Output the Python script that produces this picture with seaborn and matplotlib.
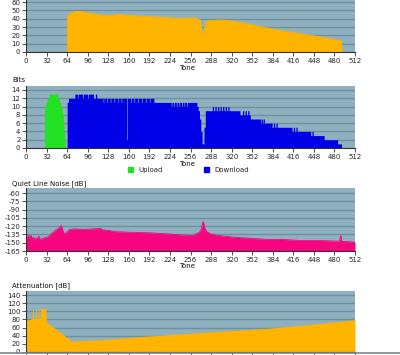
import numpy as np
import matplotlib
matplotlib.use('Agg')
import matplotlib.pyplot as plt
from matplotlib.lines import Line2D
from matplotlib.patches import Patch
import seaborn as sns

# ---- data ----
tone_ticks = list(range(0, 513, 32))

# top panel (its top is cut off in the screenshot)
snr_tones = [64, 64.5, 66, 70, 78, 88, 96, 105, 118, 131, 147, 160, 178, 209, 240, 256, 262, 268,
             271, 273, 275.5, 278, 280, 282, 300, 313, 343, 365, 395, 436, 471, 482, 491, 491.5]
snr_vals = [0, 40, 45, 47, 48.8, 48.5, 47, 46, 44.4, 44, 45.2, 44, 43, 42, 40.4, 41, 41, 39.5,
            38, 30, 17, 30, 36, 37.5, 38.5, 38.2, 34.5, 30.5, 26, 21, 16.5, 14.5, 13.5, 0]

# bits per tone, upload (step changes)
ul_start = [29, 31, 33, 35, 50, 52, 54, 56, 57, 58, 59, 60, 61]
ul_bits = [10, 11, 12, 13, 12, 11, 10, 9, 8, 6, 4, 2, 0]

# bits per tone, download (step changes)
dl_start = [64, 66, 76, 105, 199, 258, 266, 268, 270, 272, 274, 277, 279,
            333, 349, 365, 383, 414, 443, 464, 485, 491]
dl_bits = [11, 12, 13, 12, 11, 11, 10, 9, 7, 4, 1, 5, 9,
           8, 7, 6, 5, 4, 3, 2, 1, 0]
# short deviations on top of the steps
dl_dev_start = [80, 88, 96, 108, 120, 126, 131, 137, 143, 148, 157, 163, 168, 174, 180, 186, 192,
                226, 230, 234, 238, 242, 246, 250, 290, 294, 298, 302, 306, 310, 314,
                337, 341, 345, 366, 369, 385, 389, 416, 420, 445, 462]
dl_dev_end = [81, 89, 97, 110, 121, 127, 132, 138, 144, 149, 158, 164, 169, 175, 181, 187, 193,
              227, 231, 235, 239, 243, 247, 251, 292, 296, 300, 304, 308, 312, 316,
              339, 343, 347, 368, 371, 387, 391, 418, 422, 447, 464]
dl_dev_bits = [12, 12, 12, 13, 11, 11, 11, 11, 11, 11, 2, 11, 11, 11, 11, 11, 11,
               10, 10, 10, 10, 10, 10, 10, 10, 10, 10, 10, 10, 10, 10,
               9, 9, 9, 7, 7, 6, 6, 5, 5, 4, 3]

# quiet line noise [dB]
noise_tones = [0, 1, 3, 6, 8, 10, 12, 14, 16, 18, 20, 22, 25, 29, 33, 36, 40, 44, 47, 50,
               53, 55, 56, 58, 60, 64, 68, 75, 90, 105, 115, 120, 130, 140, 160, 192, 220, 244,
               259, 265, 270, 273, 275, 276, 278, 281, 287, 300, 323, 350, 375, 400, 427, 460,
               479, 488, 489, 490, 491, 492, 500, 512]
noise_db = [-150, -140, -137, -138, -137, -143, -140, -146, -141, -143, -138, -144, -143, -141,
            -140, -138, -133, -129, -127, -124, -121, -119, -122, -130, -134, -130, -126, -125,
            -126, -125, -124, -127, -128, -130, -131, -132, -134, -136, -137, -134, -131, -125,
            -113, -112, -122, -130, -134, -137, -140, -142, -144, -144, -146, -146, -147, -147,
            -140, -137, -145, -148, -148, -149]

# attenuation [dB]
att_tones = [0, 5, 9, 10, 10.3, 11.5, 11.8, 14.5, 14.8, 16, 16.3, 18.5, 18.8, 20, 20.3,
             22.5, 22.8, 23.5, 24, 31, 31.5, 33, 71, 115, 180, 271, 375, 443, 512]
att_db = [76, 80, 82, 83, 104, 104, 83, 83, 105, 105, 83, 83, 105, 105, 83,
          83, 106, 106, 107, 107, 75, 72, 27, 30, 38, 48, 58, 68, 79]

# ---- style ----
BG = '#8eb0bf'
GRID = '#6f909f'
ORANGE = '#ffb400'
GREEN = '#22e022'
BLUE = '#0000e6'
PINK = '#f7047f'

sns.set_theme(style='white', rc={'axes.facecolor': BG, 'axes.edgecolor': '#333333'})
plt.rcParams['font.family'] = ['DejaVu Sans']

W, H = 400, 355
fig = plt.figure(figsize=(W / 100, H / 100), dpi=100)


def px_axes(x0, y_top, x1, y_bot):
    return fig.add_axes([x0 / W, 1 - y_bot / H, (x1 - x0) / W, (y_bot - y_top) / H])


def px_text(x, y, s, **kw):
    fig.text(x / W, 1 - y / H, s, fontsize=5, color='#111111', va='center', **kw)


def style(ax, ylim, yticks):
    ax.set_xlim(0, 512)
    ax.set_ylim(*ylim)
    ax.set_xticks(tone_ticks)
    ax.set_yticks(yticks)
    ax.set_axisbelow(True)
    ax.grid(axis='y', color=GRID, lw=1)
    ax.grid(axis='x', visible=False)
    for s in ['top', 'right']:
        ax.spines[s].set_visible(False)
    for s in ['left', 'bottom']:
        ax.spines[s].set_linewidth(0.8)
        ax.spines[s].set_color('#333333')
    ax.tick_params(axis='both', direction='out', length=3, width=0.6, color='#333333',
                   labelsize=5, pad=1, left=True, bottom=True)
    ax.set_xlabel('')
    ax.set_ylabel('')


def steps(starts, values):
    arr = np.zeros(513)
    for s, e, v in zip(starts[:-1], starts[1:], values[:-1]):
        arr[s:e] = v
    return arr


tones = np.arange(513)

# panel 1
ax1 = px_axes(26, 52 - 70 * 0.833, 355, 52)
ax1.fill_between(snr_tones, snr_vals, 0, color=ORANGE, lw=0)
sns.lineplot(x=snr_tones, y=snr_vals, ax=ax1, color=ORANGE, lw=0.6, estimator=None, sort=False)
style(ax1, (0, 70), range(0, 61, 10))
px_text(187, 68.5, 'Tone', ha='center')

# panel 2: bits
ul = steps(ul_start, ul_bits)
dl = steps(dl_start, dl_bits)
for s, e, v in zip(dl_dev_start, dl_dev_end, dl_dev_bits):
    dl[s:e] = v
ax2 = px_axes(26, 148 - 15 * 4.143, 355, 148)
ax2.fill_between(tones, ul, 0, step='post', color=GREEN, lw=0)
ax2.fill_between(tones, dl, 0, step='post', color=BLUE, lw=0)
style(ax2, (0, 15), range(0, 15, 2))
px_text(12, 80, 'Bits', ha='left')
px_text(187, 164, 'Tone', ha='center')
fig.legend(handles=[Patch(color=GREEN, label='Upload'), Patch(color=BLUE, label='Download')],
           loc='center left', bbox_to_anchor=(128 / W, 1 - 170 / H), ncol=2, frameon=False,
           fontsize=5, handlelength=0.75, handleheight=0.75, handletextpad=0.7,
           columnspacing=6, borderpad=0, borderaxespad=0)

# panel 3: quiet line noise
ax3 = px_axes(26, 187.5, 355, 251)
ax3.fill_between(noise_tones, noise_db, -165, color=PINK, lw=0)
sns.lineplot(x=noise_tones, y=noise_db, ax=ax3, color=PINK, lw=0.6, estimator=None, sort=False)
style(ax3, (-165, -50), range(-165, -59, 15))
ax3.set_yticklabels([f'-{abs(v)}' for v in range(-165, -59, 15)])
px_text(12, 183.5, 'Quiet Line Noise [dB]', ha='left')
px_text(187, 266, 'Tone', ha='center')

# panel 4: attenuation (its tone labels are below the screenshot edge)
ax4 = px_axes(26, 291, 355, 352)
ax4.fill_between(att_tones, att_db, 0, color=ORANGE, lw=0)
style(ax4, (0, 150), range(0, 141, 20))
ax4.tick_params(axis='x', labelbottom=False)
px_text(12, 286, 'Attenuation [dB]', ha='left')

# window border at the bottom of the screenshot
fig.add_artist(Line2D([0, 1], [1 - 352.5 / H] * 2, color='#7c8a90', lw=1.2))

fig.savefig('out.png', dpi=100)
